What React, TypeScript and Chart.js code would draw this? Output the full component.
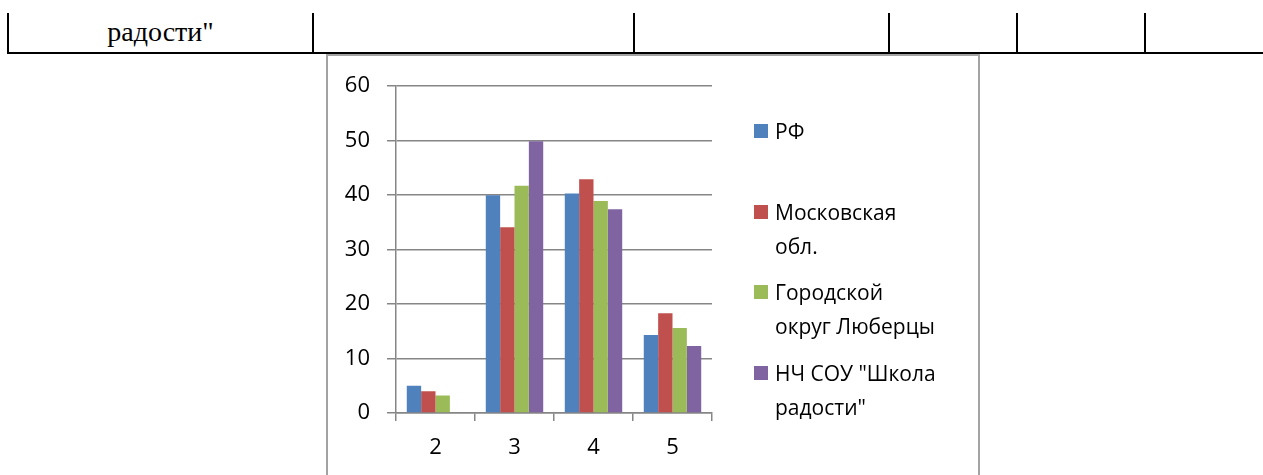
import React, { useEffect, useRef } from "react";
import { Chart, registerables } from "chart.js";

Chart.register(...registerables);

// ---- data ----
const categories = ["2", "3", "4", "5"];
const seriesNames = ["РФ", "Московская обл.", "Городской округ Люберцы", 'НЧ СОУ "Школа радости"'];
const rfValues = [5, 40, 40.3, 14.3];
const moscowRegionValues = [4, 34.1, 42.9, 18.3];
const lyubertsyValues = [3.2, 41.7, 38.9, 15.6];
const schoolValues = [0, 49.9, 37.4, 12.3];
const seriesColors = ["#4F81BD", "#C0504D", "#9BBB59", "#8064A2"];
const yMin = 0;
const yMax = 60;
const yStep = 10;
const tableCellText = 'радости"';

const seriesValues = [rfValues, moscowRegionValues, lyubertsyValues, schoolValues];

// ---- layout (positions only) ----
const tableLinesX = [8, 313, 634, 889, 1017, 1145];
const legendTops = [114, 195, 275, 356];
const FONT = "'Open Sans', 'Noto Sans', sans-serif";
const GRID = "#868686";

export default function App() {
  const canvasRef = useRef<HTMLCanvasElement | null>(null);

  useEffect(() => {
    const canvas = canvasRef.current;
    if (!canvas) return;
    const chart = new Chart(canvas, {
      type: "bar",
      data: {
        labels: categories,
        datasets: seriesNames.map((name, i) => ({
          label: name,
          data: seriesValues[i],
          backgroundColor: seriesColors[i],
          borderWidth: 0,
          categoryPercentage: 0.727,
          barPercentage: 1,
        })),
      },
      options: {
        responsive: false,
        animation: false,
        devicePixelRatio: 1,
        layout: { padding: { left: 0, right: 266, top: 27, bottom: 0 } },
        plugins: {
          legend: { display: false },
          tooltip: { enabled: false },
          title: { display: false },
        },
        scales: {
          x: {
            grid: {
              offset: true,
              drawOnChartArea: false,
              drawTicks: true,
              tickLength: 8,
              color: GRID,
              lineWidth: 1.5,
            },
            border: { display: true, color: GRID, width: 1.5 },
            ticks: {
              padding: 14,
              color: "#000",
              font: { family: FONT, size: 22 },
            },
            afterFit: (scale: any) => {
              scale.height = 62;
            },
          },
          y: {
            min: yMin,
            max: yMax,
            grid: {
              drawTicks: true,
              tickLength: 9,
              color: GRID,
              lineWidth: 1.5,
            },
            border: { display: true, color: GRID, width: 1.5 },
            ticks: {
              stepSize: yStep,
              padding: 17,
              color: "#000",
              font: { family: FONT, size: 22 },
            },
            afterFit: (scale: any) => {
              scale.width = 68;
            },
          },
        },
      },
    });
    return () => chart.destroy();
  }, []);

  return (
    <div
      style={{
        position: "absolute",
        left: 0,
        top: 0,
        width: 1263,
        height: 475,
        overflow: "hidden",
        background: "#fff",
      }}
    >
      {/* table row above the chart */}
      {tableLinesX.map((x) => (
        <div
          key={x}
          style={{ position: "absolute", left: x - 1, top: 13, width: 2, height: 41, background: "#000" }}
        />
      ))}
      <div style={{ position: "absolute", left: 7, top: 52, width: 1263, height: 2, background: "#000" }} />
      <div
        style={{
          position: "absolute",
          left: 8,
          width: 305,
          top: 14,
          textAlign: "center",
          fontFamily: "'Liberation Serif', 'Times New Roman', serif",
          fontSize: 28,
          lineHeight: "36px",
          color: "#000",
        }}
      >
        {tableCellText}
      </div>

      {/* chart frame */}
      <div
        style={{
          position: "absolute",
          left: 326,
          top: 54,
          width: 654,
          height: 500,
          border: "2px solid #a3a3a3",
          boxSizing: "border-box",
        }}
      />
      <canvas
        ref={canvasRef}
        width={650}
        height={419}
        style={{ position: "absolute", left: 328, top: 56, width: 650, height: 419 }}
      />

      {/* legend */}
      {seriesNames.map((name, i) => (
        <div key={name}>
          <div
            style={{
              position: "absolute",
              left: 754,
              top: legendTops[i] + 10,
              width: 14,
              height: 14,
              background: seriesColors[i],
            }}
          />
          <div
            style={{
              position: "absolute",
              left: 775,
              top: legendTops[i],
              width: 165,
              fontFamily: FONT,
              fontSize: 21,
              lineHeight: "34px",
              color: "#000",
            }}
          >
            {name}
          </div>
        </div>
      ))}
    </div>
  );
}
